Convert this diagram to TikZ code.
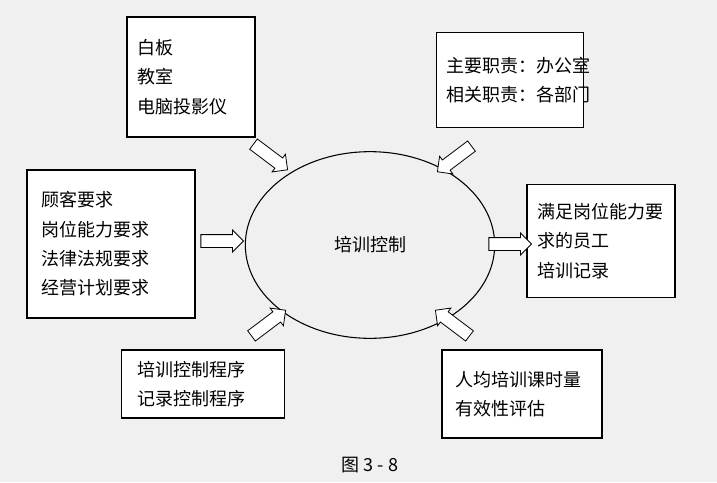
\documentclass[tikz,border=0pt]{standalone}
\usepackage{fontspec}
\newfontfamily\cjk{Noto Sans CJK SC}
\usetikzlibrary{shapes.arrows,shapes.geometric}

\begin{document}
\begin{tikzpicture}[
  x=0.75pt, y=-0.75pt,
  every node/.style = {font=\cjk\fontsize{13.5}{22}\selectfont},
  infobox/.style = {draw, line width=0.8pt, fill=white, inner sep=0pt, align=left},
  blockarrow/.style = {draw, line width=0.6pt, fill=white, single arrow, single arrow head extend=3.5pt,
    minimum height=32pt, inner sep=4.5pt, rotate=#1}
]
  \fill[black!6] (0,0) rectangle (717,482);
  \useasboundingbox (0,0) rectangle (717,482);
  % centre
  \node[draw, ellipse, line width=0.8pt, minimum width=187pt, minimum height=140pt] (ctrl) at (370,245) {培训控制};
  % boxes
  \node[infobox, minimum width=96pt, minimum height=90pt, text width=80pt] (res) at (191,77) {白板\\教室\\电脑投影仪};
  \node[infobox, minimum width=110pt, minimum height=71pt, text width=96pt] (duty) at (510,80) {主要职责：办公室\\相关职责：各部门};
  \node[infobox, minimum width=126pt, minimum height=111pt, text width=104pt] (input) at (111,244) {顾客要求\\岗位能力要求\\法律法规要求\\经营计划要求};
  \node[infobox, minimum width=111pt, minimum height=85pt, text width=96pt] (output) at (601,241) {满足岗位能力要\\求的员工\\培训记录};
  \node[infobox, minimum width=122pt, minimum height=51pt, text width=98pt] (proc) at (203,384) {培训控制程序\\记录控制程序};
  \node[infobox, minimum width=120pt, minimum height=66pt, text width=100pt] (meas) at (522,394) {人均培训课时量\\有效性评估};
  % arrows
  \node[blockarrow=-37] (a1) at (268,155) {};
  \node[blockarrow=-143] (a2) at (457,157) {};
  \node[blockarrow=0] (a3) at (219,241) {};
  \node[blockarrow=0] (a4) at (507,244) {};
  \node[blockarrow=37] (a5) at (266,325) {};
  \node[blockarrow=143] (a6) at (455,325) {};
  % caption
  \node (cap) at (370,465) {图 3 - 8};
\end{tikzpicture}
\end{document}
